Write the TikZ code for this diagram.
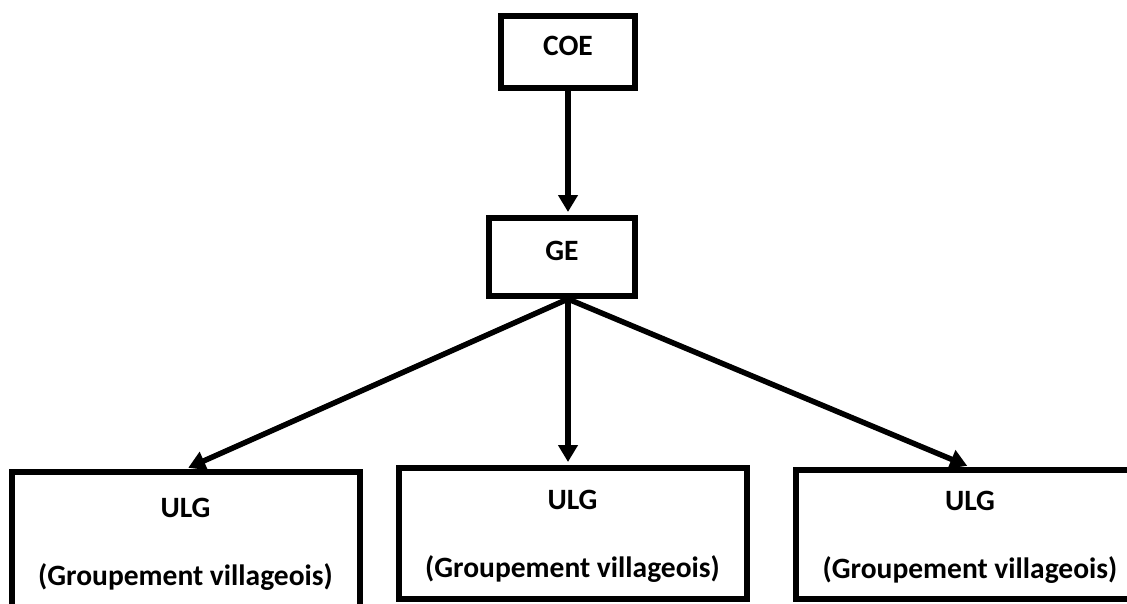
\documentclass[tikz,border=0pt]{standalone}
\usepackage{fontspec}
\setmainfont{Carlito}
\usepackage{tikz}
\usetikzlibrary{arrows.meta}
\tikzstyle{box}=[draw,rectangle,line width=6pt,align=center,inner sep=0pt,font=\fontsize{29.5}{68}\selectfont\bfseries]
\tikzstyle{edge}=[draw,line width=5.5pt,-{Triangle[width=19pt,length=17pt]},shorten >=3pt]

\begin{document}
\begin{tikzpicture}[x=1pt,y=-1pt]
    % fix the page to the reference size
    \path[use as bounding box,clip] (0,0) rectangle (1127,603);
    % Draw the top two boxes
    \node[box,minimum width=134pt,minimum height=72pt,text depth=12pt] (COE) at (568,52) {COE};
    \node[box,minimum width=146pt,minimum height=78pt,text depth=13pt] (GE) at (562,257) {GE};
    % Then the three ULG boxes
    \foreach \pos/\name/\h in {{(185.5,542)/ULG1/140pt},{(572.5,533.5)/ULG2/131pt},{(970,534.5)/ULG3/129pt}}
        \node[box,minimum width=348pt,minimum height=\h,text height=92pt] (\name) at \pos {ULG\\(Groupement villageois)\hspace{14pt}};
    % Connect boxes with arrows
    \path[edge] (COE.south) -- (COE.south |- GE.north);
    \coordinate (fork) at (GE.south -| COE.south);
    \foreach \dest in {ULG1,ULG3}
        \path[edge] (fork) -- (\dest.north);
    \path[edge] (fork) -- (fork |- ULG2.north);
\end{tikzpicture}
\end{document}
